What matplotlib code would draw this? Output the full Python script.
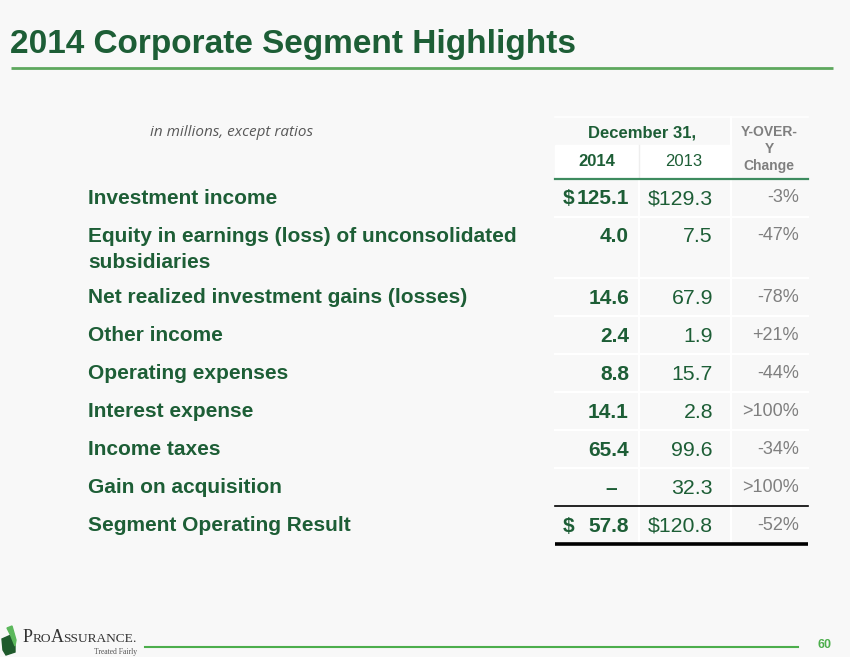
import matplotlib
matplotlib.use("Agg")
import matplotlib.pyplot as plt
from matplotlib.patches import Polygon, Rectangle

# table data (in millions)
labels = ["Investment income",
          "Equity in earnings (loss) of unconsolidated\nsubsidiaries",
          "Net realized investment gains (losses)",
          "Other income",
          "Operating expenses",
          "Interest expense",
          "Income taxes",
          "Gain on acquisition",
          "Segment Operating Result"]
v2014 = [125.1, 4.0, 14.6, 2.4, 8.8, 14.1, 65.4, None, 57.8]
v2013 = [129.3, 7.5, 67.9, 1.9, 15.7, 2.8, 99.6, 32.3, 120.8]
change = ["-3%", "-47%", "-78%", "+21%", "-44%", ">100%", "-34%", ">100%", "-52%"]
dollar_rows = [0, 8]

title = "2014 Corporate Segment Highlights"
subtitle = "in millions, except ratios"
page = "60"

dkgreen = "#1d5e36"
gray = "#7f7f7f"
bg = "#f8f8f8"

fig = plt.figure(figsize=(8.5, 6.57), dpi=100, facecolor=bg)
ax = fig.add_axes([0, 0, 1, 1])
ax.set_xlim(0, 850)
ax.set_ylim(657, 0)
ax.axis("off")
ax.set_facecolor(bg)

# title
ax.text(10, 53, title, fontsize=24, fontweight="bold", color=dkgreen,
        family="Liberation Sans", va="baseline", ha="left")
ax.plot([11, 833], [68, 68], color="#5ea85e", lw=2, solid_capstyle="butt")

ax.text(150, 133, subtitle, fontsize=11, style="italic", color="#595959",
        family="Open Sans", va="center", ha="left")

# column geometry
tx0, tx1 = 555, 808
c1, c2 = 639, 731
x_dollar, x14, x13, xch = 563, 629, 713, 799

# header
ax.add_patch(Rectangle((tx0, 145), c2 - tx0, 33, color="white", zorder=0))
ax.plot([c1, c1], [145, 178], color="#eeeeee", lw=1, zorder=1)
ax.plot([tx0, tx1], [117, 117], color="white", lw=1.2)
ax.text((tx0 + c2) / 2 - 1, 133, "December 31,", fontsize=12, fontweight="bold",
        color=dkgreen, family="Liberation Sans", ha="center", va="center")
ax.text(597, 162, "2014", fontsize=12, fontweight="bold", color=dkgreen,
        family="Liberation Sans", ha="center", va="center")
ax.text(684, 162, "2013", fontsize=12, color=dkgreen,
        family="Liberation Sans", ha="center", va="center")
for yy, s in zip([132, 149, 166], ["Y-OVER-", "Y", "Change"]):
    ax.text(769, yy, s, fontsize=10, fontweight="bold", color=gray,
            family="Liberation Sans", ha="center", va="center")
ax.plot([tx0, tx1], [179, 179], color="#3d8b5f", lw=1.6, zorder=3)

# body rows
top = 179
bounds = [top]
for i, lab in enumerate(labels):
    lines = lab.split("\n")
    h = 38 + 23 * (len(lines) - 1)
    for k, ln in enumerate(lines):
        ax.text(88, top + 25 + 26 * k, ln, fontsize=15, fontweight="bold",
                color=dkgreen, family="Liberation Sans", va="baseline", ha="left")
    yb = top + 25.5
    if v2014[i] is None:
        ax.text(611, yb, "\u2013", fontsize=15, fontweight="bold", color=dkgreen,
                family="Liberation Sans", va="baseline", ha="center")
    else:
        ax.text(x14, yb, f"{v2014[i]:.1f}", fontsize=15, fontweight="bold",
                color=dkgreen, family="Liberation Sans", va="baseline", ha="right")
    pre = "$" if i in dollar_rows else ""
    if pre:
        ax.text(x_dollar, yb, "$", fontsize=15, fontweight="bold", color=dkgreen,
                family="Liberation Sans", va="baseline", ha="left")
    ax.text(x13, yb, f"{pre}{v2013[i]:.1f}", fontsize=15.3, color=dkgreen,
            family="Liberation Sans", va="baseline", ha="right")
    ax.text(xch, top + 23.5, change[i], fontsize=13, color=gray,
            family="Liberation Sans", va="baseline", ha="right")
    top += h
    bounds.append(top)

for yy in bounds[1:-2]:
    ax.plot([tx0, tx1], [yy, yy], color="white", lw=1.5, zorder=1)
for xx, y0 in [(c1, 179), (c2, 117)]:
    ax.plot([xx, xx], [y0, bounds[-1]], color="white", lw=1.5, zorder=1)
ax.plot([tx0, tx1], [bounds[-2], bounds[-2]], color="black", lw=1.2, zorder=3)
ax.plot([tx0, tx1], [bounds[-1], bounds[-1]], color="black", lw=2.6, zorder=3,
        solid_capstyle="butt")

# footer
ax.plot([145, 798], [647, 647], color="#4cae4c", lw=1.5)
ax.text(825, 645, page, fontsize=9, fontweight="bold", color="#4cae4c",
        family="Liberation Sans", ha="center", va="center")

# logo
ax.add_patch(Polygon([[2, 639], [11, 635], [15, 646], [15, 652], [6, 655], [3, 650]],
                     closed=True, color="#1f5a2c"))
ax.add_patch(Polygon([[7, 628], [12, 626], [16, 640], [15, 646], [11, 636]],
                     closed=True, color="#5cb85c"))
fig.canvas.draw()
r = fig.canvas.get_renderer()
x = 23
for s, fs in [("P", 13), ("RO", 9.6), ("A", 13), ("SSURANCE", 9.6), (".", 9.6)]:
    t = ax.text(x, 642, s, fontsize=fs, color="#333333", family="Liberation Serif",
                va="baseline", ha="left")
    bb = t.get_window_extent(r)
    x += bb.width - 0.5
ax.text(137, 654, "Treated Fairly", fontsize=5.5, color="#555555",
        family="Liberation Serif", va="baseline", ha="right")

fig.savefig("out.png", dpi=100, facecolor=bg)
